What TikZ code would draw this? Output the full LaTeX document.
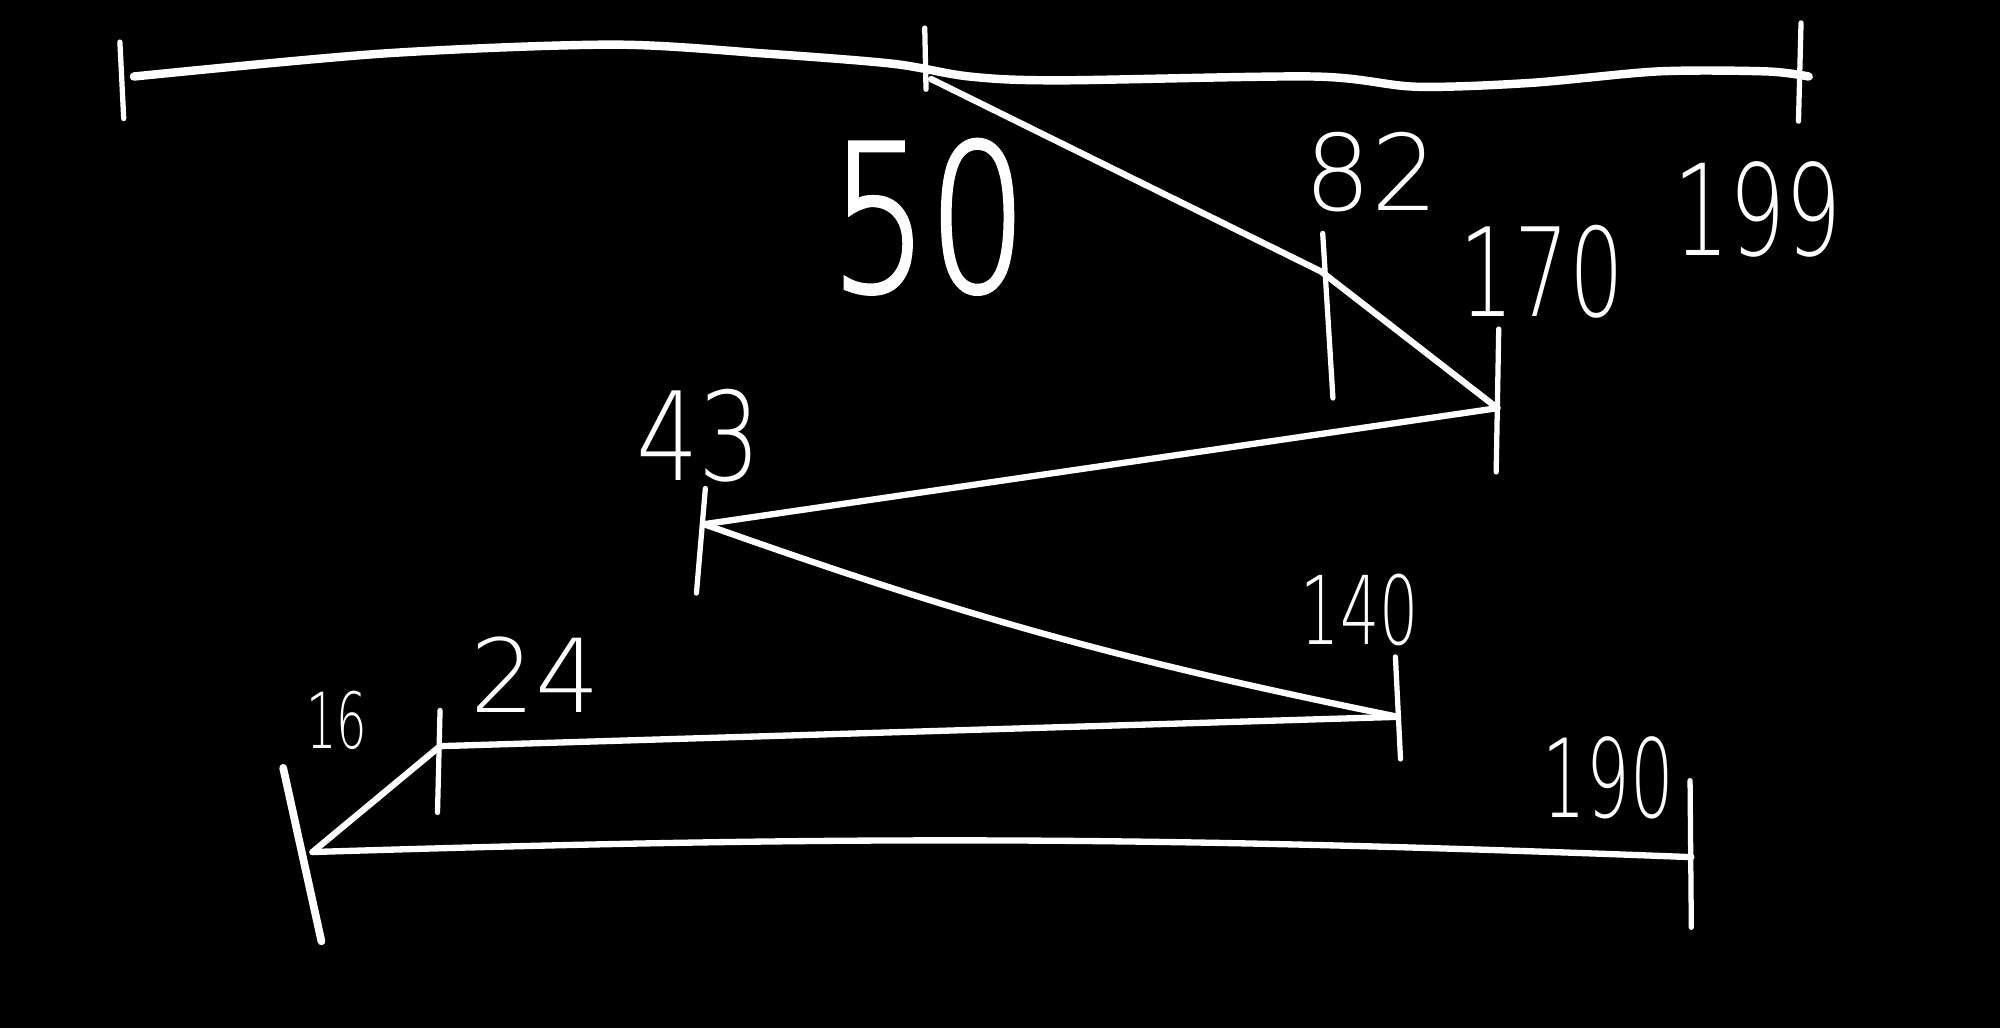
\documentclass[tikz,border=0pt]{standalone}
\usepackage{fontspec}
\usepackage{tikz}
\usetikzlibrary{positioning}
\newfontfamily\handfont{DejaVu Sans ExtraLight}
\newfontfamily\handboldfont{DejaVu Sans ExtraLight}[FakeBold=2]
\tikzstyle{axis} = [white, line width=2.4pt, line cap=round, line join=round]
\tikzstyle{tick} = [white, line width=1.5pt, line cap=round]
\tikzstyle{seek} = [white, line width=1.8pt, line cap=round, line join=round]
\tikzstyle{num} = [text=white, inner sep=0pt]

\begin{document}
\begin{tikzpicture}[x=0.12755mm, y=-0.12755mm]

	\fill[black] (0,0) rectangle (1568,806);

	% cylinder axis 0 .. 199
	\draw [axis] plot[smooth, tension=0.5] coordinates {(105,60) (300,42) (480,35) (600,42) (700,50) (760,60) (830,63) (1030,60) (1110,68) (1200,65) (1300,56) (1385,56) (1418,60)};
	\draw [tick] (94,33) -- (97,93);
	\draw [tick] (725,22) -- (726,70);
	\draw [tick] (1412,18) -- (1410,95);

	% requests
	\coordinate (t50) at (730,62);
	\coordinate (t82) at (1036,213);
	\coordinate (t170) at (1174,320);
	\coordinate (t43) at (552,411);
	\coordinate (t140) at (1096,562);
	\coordinate (t24) at (345,585);
	\coordinate (t16) at (245,668);
	\coordinate (t190) at (1326,672);

	\draw [tick] (1037,183) -- (1045,312);
	\draw [tick] (1175,258) -- (1173,370);
	\draw [tick] (553,383) -- (546,465);
	\draw [tick] (1094,515) -- (1098,595);
	\draw [tick] (345,557) -- (343,637);
	\draw [tick, line width=2.2pt] (222,602) -- (252,738);
	\draw [tick] (1325,612) -- (1326,727);

	\node (l50) [num, font=\handboldfont\fontsize{58}{58}\selectfont] at (728,170) {\scalebox{0.76}[1]{50}};
	\node (l82) [num, font=\handfont\fontsize{30}{30}\selectfont] at (1075,135) {82};
	\node (l170) [num, font=\handfont\fontsize{35}{35}\selectfont] at (1209,213) {\scalebox{0.7}[1]{170}};
	\node (l199) [num, font=\handfont\fontsize{36}{36}\selectfont] at (1378,164) {\scalebox{0.7}[1]{199}};
	\node (l43) [num, font=\handfont\fontsize{35}{35}\selectfont] at (548,342) {\scalebox{0.8}[1]{43}};
	\node (l140) [num, font=\handfont\fontsize{27}{27}\selectfont] at (1066,478) {\scalebox{0.65}[1]{140}};
	\node (l24) [num, font=\handfont\fontsize{29}{29}\selectfont] at (420,529) {24};
	\node (l16) [num, font=\handfont\fontsize{22}{22}\selectfont] at (264,565) {\scalebox{0.62}[1]{16}};
	\node (l190) [num, font=\handfont\fontsize{31}{31}\selectfont] at (1261,610) {\scalebox{0.63}[1]{190}};

	\draw [seek] (t50) -- (t82);
	\draw [seek] (t82) -- (t170);
	\draw [seek] (t170) -- (t43);
	\draw [seek] (t43) to[bend right=4] (t140);
	\draw [seek] (t140) -- (t24);
	\draw [seek] (t24) -- (t16);
	\draw [seek] (t16) to[bend left=2] (t190);

\end{tikzpicture}
\end{document}
